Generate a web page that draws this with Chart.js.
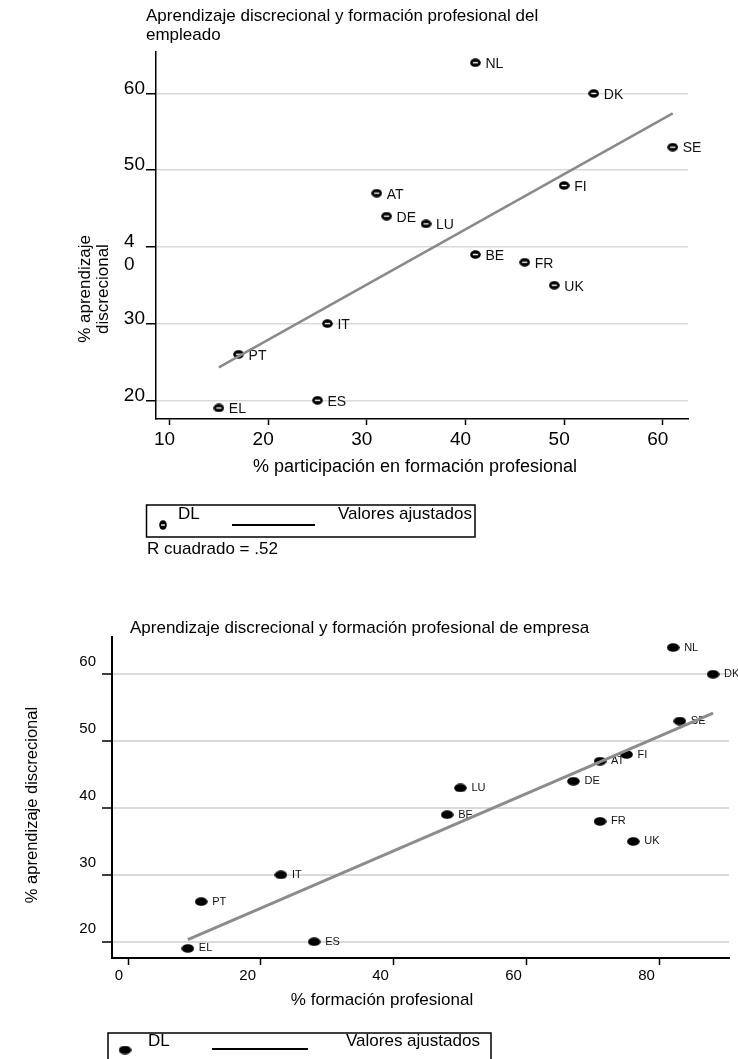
<!DOCTYPE html>
<html>
<head>
<meta charset="utf-8">
<script src="https://cdn.jsdelivr.net/npm/chart.js@4.4.1/dist/chart.umd.min.js"></script>
<style>
  html, body { margin: 0; padding: 0; background: #fff; }
  #wrap { position: relative; width: 738px; height: 1059px; overflow: hidden; }
  canvas { position: absolute; left: 0; }
  #c1 { top: 0; }
  #c2 { top: 600px; }
</style>
</head>
<body>
<div id="wrap">
  <canvas id="c1" width="738" height="600"></canvas>
  <canvas id="c2" width="738" height="459"></canvas>
</div>
<script>
// Country codes (same order in both panels)
const countries = ['NL','DK','SE','FI','AT','DE','LU','BE','FR','UK','IT','PT','ES','EL'];
// % discretionary learning (vertical axis of both panels)
const discretionaryLearning = [64, 60, 53, 48, 47, 44, 43, 39, 38, 35, 30, 26, 20, 19];
// % of employees taking part in vocational training (top panel)
const employeeTraining = [41, 53, 61, 50, 31, 32, 36, 41, 46, 49, 26, 17, 25, 15];
// % vocational training provided by firms (bottom panel)
const firmTraining = [82, 88, 83, 75, 71, 67, 50, 48, 71, 76, 23, 11, 28, 9];

// Fitted values (end points of each regression line)
const fittedEmployeeX = [15, 61];
const fittedEmployeeY = [24.3, 57.4];
const fittedFirmX = [9, 88];
const fittedFirmY = [20.3, 54.2];

// Tick values and labels
const topXTicks = [10, 20, 30, 40, 50, 60];
const topYTicks = [20, 30, 40, 50, 60];
const topYTickLabels = ['20', '30', '4\n0', '50', '60'];
const bottomXTicks = [0, 20, 40, 60, 80];
const bottomYTicks = [20, 30, 40, 50, 60];

// Text
const legendLabels = ['DL', 'Valores ajustados'];
const rSquaredNote = 'R cuadrado = .52';
const topTitle = ['Aprendizaje discrecional y formación profesional del', 'empleado'];
const bottomTitle = 'Aprendizaje discrecional y formación profesional de empresa';
const topXTitle = '% participación en formación profesional';
const topYTitle = ['% aprendizaje', 'discrecional'];
const bottomXTitle = '% formación profesional';
const bottomYTitle = '% aprendizaje discrecional';

const FONT = '"Liberation Sans", Arial, Helvetica, sans-serif';
Chart.defaults.font.family = FONT;
Chart.defaults.color = '#000';

// Marker glyphs
function hollowMarker(w, h) {
  const c = document.createElement('canvas');
  c.width = w; c.height = h;
  const g = c.getContext('2d');
  g.fillStyle = '#000';
  g.beginPath();
  g.ellipse(w / 2, h / 2, w / 2 - 0.2, h / 2 - 0.2, 0, 0, Math.PI * 2);
  g.fill();
  g.fillStyle = '#fff';
  g.fillRect(w * 0.26, h / 2 - 0.7, w * 0.48, 1.4);
  return c;
}
function solidMarker(w, h) {
  const c = document.createElement('canvas');
  c.width = w; c.height = h;
  const g = c.getContext('2d');
  g.fillStyle = '#000';
  g.beginPath();
  g.ellipse(w / 2, h / 2, w / 2 - 0.2, h / 2 - 0.2, 0, 0, Math.PI * 2);
  g.fill();
  return c;
}

const toPoints = (xs, ys) => xs.map((x, i) => ({ x: x, y: ys[i] }));

// Country labels next to each marker
const pointLabels = {
  id: 'pointLabels',
  afterDatasetDraw(chart, args, opts) {
    if (args.index !== 0) return;
    const ctx = chart.ctx;
    ctx.save();
    ctx.font = opts.size + 'px ' + FONT;
    ctx.fillStyle = '#111';
    ctx.textBaseline = 'middle';
    ctx.textAlign = 'left';
    args.meta.data.forEach((el, i) => {
      ctx.fillText(countries[i], el.x + opts.dx, el.y + opts.dy);
    });
    ctx.restore();
  }
};

// Titles, axis titles, legend box and notes
function decorations(spec) {
  return {
    id: 'decorations',
    afterDraw(chart) {
      const ctx = chart.ctx;
      ctx.save();
      ctx.fillStyle = '#000';
      ctx.textBaseline = 'middle';
      // title
      ctx.font = spec.titleSize + 'px ' + FONT;
      ctx.textAlign = 'left';
      spec.title.forEach(t => ctx.fillText(t.text, t.x, t.y));
      // x title
      ctx.font = spec.xTitle.size + 'px ' + FONT;
      ctx.textAlign = 'center';
      ctx.fillText(spec.xTitle.text, spec.xTitle.x, spec.xTitle.y);
      // y title (rotated)
      ctx.font = spec.yTitleSize + 'px ' + FONT;
      spec.yTitle.forEach(t => {
        ctx.save();
        ctx.translate(t.x, t.y);
        ctx.rotate(-Math.PI / 2);
        ctx.textAlign = 'center';
        ctx.fillText(t.text, 0, 0);
        ctx.restore();
      });
      // legend
      const L = spec.legend;
      ctx.font = spec.legendSize + 'px ' + FONT;
      ctx.strokeStyle = '#000';
      ctx.lineWidth = 1.5;
      ctx.strokeRect(L.box[0], L.box[1], L.box[2], L.box[3]);
      ctx.drawImage(L.marker, L.markerAt[0] - L.marker.width / 2, L.markerAt[1] - L.marker.height / 2);
      ctx.textAlign = 'left';
      ctx.fillText(legendLabels[0], L.label1[0], L.label1[1]);
      ctx.lineWidth = 2;
      ctx.beginPath();
      ctx.moveTo(L.line[0], L.line[2]);
      ctx.lineTo(L.line[1], L.line[2]);
      ctx.stroke();
      ctx.fillText(legendLabels[1], L.label2[0], L.label2[1]);
      if (spec.note) ctx.fillText(spec.note.text, spec.note.x, spec.note.y);
      ctx.restore();
    }
  };
}

// ---------- top panel: employee training ----------
new Chart(document.getElementById('c1'), {
  type: 'scatter',
  data: {
    datasets: [
      {
        data: toPoints(employeeTraining, discretionaryLearning),
        pointStyle: hollowMarker(11, 9),
        pointRadius: 5,
        order: 1
      },
      {
        data: toPoints(fittedEmployeeX, fittedEmployeeY),
        showLine: true,
        borderColor: '#8a8a8a',
        borderWidth: 2.5,
        pointRadius: 0,
        order: 0
      }
    ]
  },
  options: {
    responsive: false,
    animation: false,
    devicePixelRatio: 1,
    events: [],
    layout: { padding: { top: 52, right: 50, left: 0, bottom: 141 } },
    plugins: {
      legend: { display: false },
      tooltip: { enabled: false },
      pointLabels: { size: 14, dx: 10, dy: 1.5 }
    },
    scales: {
      x: {
        type: 'linear', min: 8.63, max: 62.55, bounds: 'data',
        afterBuildTicks: s => { s.ticks = topXTicks.map(v => ({ value: v })); },
        afterFit: s => { s.height = 40; },
        grid: { drawOnChartArea: false, drawTicks: true, tickLength: 6, tickColor: '#000', tickWidth: 1.5 },
        border: { color: '#000', width: 1.5 },
        ticks: { font: { size: 19 }, color: '#000', padding: 3, labelOffset: -5, maxRotation: 0, autoSkip: false,
                 callback: v => String(v) }
      },
      y: {
        type: 'linear', min: 17.56, max: 65.4, bounds: 'data',
        afterBuildTicks: s => { s.ticks = topYTicks.map(v => ({ value: v })); },
        afterFit: s => { s.width = 156; },
        grid: { color: '#dadada', lineWidth: 1.5, drawTicks: true, tickLength: 10, tickColor: '#000', tickWidth: 1.5 },
        border: { color: '#000', width: 1.5 },
        ticks: { font: { size: 19, lineHeight: 1.2 }, color: '#000', padding: 1, labelOffset: -5, autoSkip: false,
                 callback: v => {
                   const t = topYTickLabels[topYTicks.indexOf(v)];
                   return t.includes('\n') ? [''].concat(t.split('\n').map(p => p + '  ')) : t;
                 } }
      }
    }
  },
  plugins: [pointLabels, decorations({
    titleSize: 17, yTitleSize: 17, legendSize: 17,
    title: [{ text: topTitle[0], x: 146, y: 16 }, { text: topTitle[1], x: 146, y: 35 }],
    xTitle: { text: topXTitle, x: 415, y: 467, size: 18 },
    yTitle: [{ text: topYTitle[0], x: 85, y: 289 }, { text: topYTitle[1], x: 103, y: 289 }],
    legend: {
      box: [146.5, 505, 328.5, 32],
      marker: hollowMarker(8, 10), markerAt: [163, 525],
      label1: [178, 514], line: [232, 315, 525], label2: [338, 514]
    },
    note: { text: rSquaredNote, x: 147, y: 549 }
  })]
});

// ---------- bottom panel: firm training ----------
new Chart(document.getElementById('c2'), {
  type: 'scatter',
  data: {
    datasets: [
      {
        data: toPoints(firmTraining, discretionaryLearning),
        pointStyle: solidMarker(13, 9),
        pointRadius: 6,
        order: 1
      },
      {
        data: toPoints(fittedFirmX, fittedFirmY),
        showLine: true,
        borderColor: '#8c8c8c',
        borderWidth: 3,
        pointRadius: 0,
        order: 0
      }
    ]
  },
  options: {
    responsive: false,
    animation: false,
    devicePixelRatio: 1,
    events: [],
    layout: { padding: { top: 37, right: 9, left: 0, bottom: 71 } },
    plugins: {
      legend: { display: false },
      tooltip: { enabled: false },
      pointLabels: { size: 11, dx: 11, dy: 0 }
    },
    scales: {
      x: {
        type: 'linear', min: -2.41, max: 90.4, bounds: 'data',
        afterBuildTicks: s => { s.ticks = bottomXTicks.map(v => ({ value: v })); },
        afterFit: s => { s.height = 30; },
        grid: { drawOnChartArea: false, drawTicks: true, tickLength: 7, tickColor: '#000', tickWidth: 1.5 },
        border: { color: '#000', width: 2 },
        ticks: { font: { size: 15 }, color: '#000', padding: 2, align: 'end', labelOffset: -5, maxRotation: 0, autoSkip: false,
                 callback: v => String(v) }
      },
      y: {
        type: 'linear', min: 17.57, max: 65.57, bounds: 'data',
        afterBuildTicks: s => { s.ticks = bottomYTicks.map(v => ({ value: v })); },
        afterFit: s => { s.width = 112; },
        grid: { color: '#dadada', lineWidth: 2, drawTicks: true, tickLength: 10, tickColor: '#000', tickWidth: 1.5 },
        border: { color: '#000', width: 2 },
        ticks: { font: { size: 15 }, color: '#000', padding: 6, labelOffset: -12.5, autoSkip: false,
                 callback: v => String(v) }
      }
    }
  },
  plugins: [pointLabels, decorations({
    titleSize: 17, yTitleSize: 16.5, legendSize: 17,
    title: [{ text: bottomTitle, x: 130, y: 28 }],
    xTitle: { text: bottomXTitle, x: 382, y: 400, size: 17 },
    yTitle: [{ text: bottomYTitle, x: 32, y: 205 }],
    legend: {
      box: [108, 433, 383, 60],
      marker: solidMarker(13, 9), markerAt: [125, 450],
      label1: [148, 441], line: [212, 308, 449], label2: [346, 441]
    }
  })]
});
</script>
</body>
</html>
